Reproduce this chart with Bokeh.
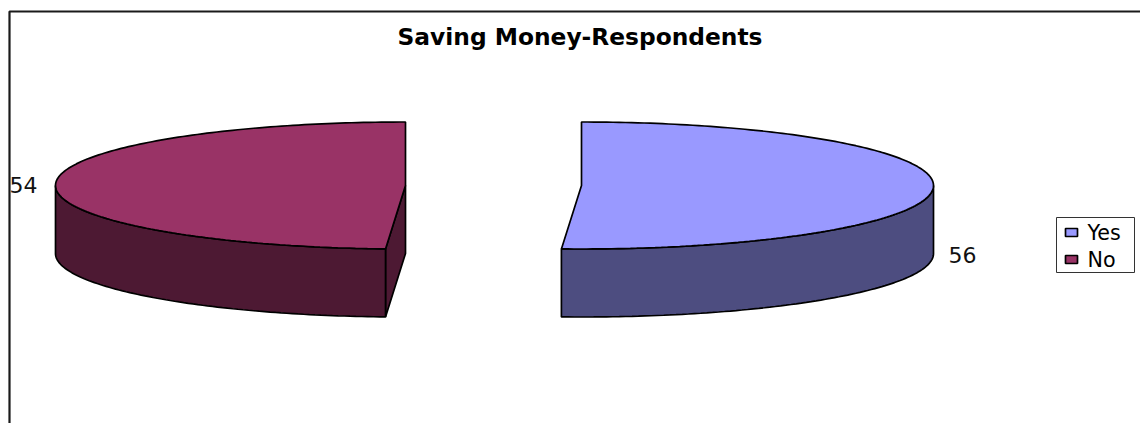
import numpy as np
from bokeh.core.properties import value
from bokeh.embed import file_html
from bokeh.models import Range1d
from bokeh.plotting import figure
from bokeh.resources import INLINE

# Survey responses
categories = ["Yes", "No"]
respondents = [56, 54]
chart_title = "Saving Money-Respondents"

top_colors = ["#9999FF", "#993366"]
side_colors = ["#4D4D80", "#4D1933"]

# Projected pie geometry, in page pixels
centers_x = [581, 405]
center_y = 185
radius_x = [352, 350]
radius_y = 63.5
depth = 68
FONT = "DejaVu Sans"
EDGE = 1.7


def rim(cx, start, stop, drop=0.0, steps=90):
    """Points on the projected rim; angles run clockwise from twelve o'clock."""
    t = np.linspace(start, stop, steps)
    i = centers_x.index(cx)
    return cx + radius_x[i] * np.sin(t), center_y - radius_y * np.cos(t) + drop


p = figure(width=1140, height=423, output_backend="svg", toolbar_location=None,
           x_range=Range1d(0, 1140), y_range=Range1d(423, 0),
           min_border=0, outline_line_color=None)
p.axis.visible = False
p.grid.visible = False
p.background_fill_color = "white"
p.border_fill_color = "white"

# Chart frame, which runs off the page at the right and bottom
p.line([9, 9, 1150], [440, 11, 11], line_color="#1a1a1a", line_width=2.2)

total = sum(respondents)
angles = np.cumsum([0] + respondents) / total * 2 * np.pi

for i, cx in enumerate(centers_x):
    start, stop = angles[i], angles[i + 1]
    top, side = top_colors[i], side_colors[i]

    # Radial wall that faces the viewer on the second slice
    if i == 1:
        ex, ey = rim(cx, start, start, steps=1)
        wall_x = [cx, cx, ex[0], ex[0]]
        wall_y = [center_y, center_y + depth, ey[0] + depth, ey[0]]
        p.patch(wall_x, wall_y, fill_color=side, line_color="black", line_width=EDGE)

    # Outer wall: only the part of the rim on the near half is visible
    a = max(start, np.pi / 2)
    b = min(stop, 3 * np.pi / 2)
    ux, uy = rim(cx, a, b)
    lx, ly = rim(cx, a, b, drop=depth)
    p.patch(np.r_[ux, lx[::-1]], np.r_[uy, ly[::-1]],
            fill_color=side, line_color="black", line_width=EDGE)

    # Top face
    tx, ty = rim(cx, start, stop, steps=180)
    p.patch(np.r_[cx, tx], np.r_[center_y, ty],
            fill_color=top, line_color="black", line_width=EDGE)

p.text([579.5], [36], text=[chart_title], text_font=value(FONT), text_font_size="17.5pt",
       text_font_style="bold", text_align="center", text_baseline="middle", text_color="black")

# Value labels beside their slices
p.text([962, 23], [254, 184], text=[str(v) for v in respondents], text_font=value(FONT),
       text_font_size="16.5pt", text_align="center", text_baseline="middle", text_color="#111111")

# Legend
p.quad(left=[1056], right=[1134], top=[217], bottom=[272], fill_color="white",
       line_color="#333333", line_width=1)
legend_rows = [232, 259]
p.quad(left=[1065] * 2, right=[1077] * 2,
       top=[y - 4 for y in legend_rows], bottom=[y + 4 for y in legend_rows],
       fill_color=top_colors, line_color="black", line_width=EDGE)
p.text([1087] * 2, legend_rows, text=categories, text_font=value(FONT),
       text_font_size="15.5pt", text_align="left", text_baseline="middle", text_color="black")

open("out.html", "w").write(file_html(p, INLINE))
